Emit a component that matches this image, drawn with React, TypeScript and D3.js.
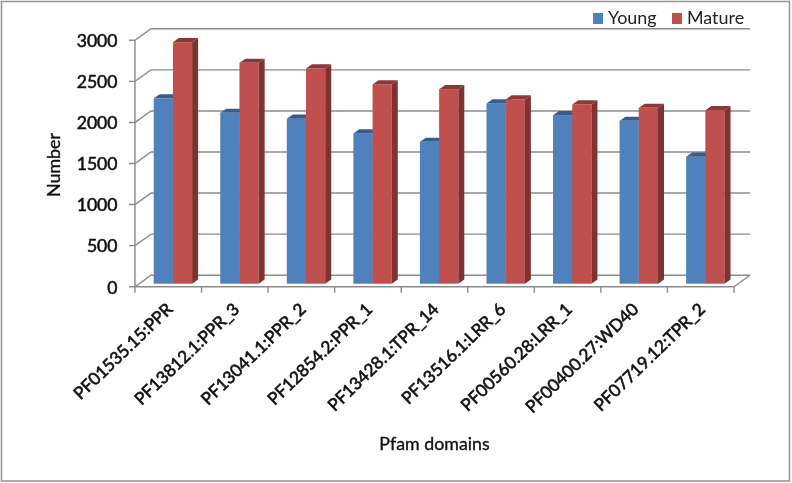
import React from "react";
import * as d3 from "d3";

const categories = ["PF01535.15:PPR","PF13812.1:PPR_3","PF13041.1:PPR_2","PF12854.2:PPR_1","PF13428.1:TPR_14","PF13516.1:LRR_6","PF00560.28:LRR_1","PF00400.27:WD40","PF07719.12:TPR_2"];
const young = [2257,2080,2008,1830,1727,2195,2052,1983,1545];
const mature = [2940,2689,2620,2426,2368,2243,2182,2141,2113];
const ticks = [0,500,1000,1500,2000,2500,3000];

const W = 792, H = 483;
const font = "Lato, 'Open Sans', 'Noto Sans', sans-serif";
const gridC = "#8c8c8c";

export default function App() {
  const x0 = 135, x1 = 734, dx = 16, dy = -11.5;
  const yFront = d3.scaleLinear().domain([0,3000]).range([286.7,40.3]);
  const yBar = d3.scaleLinear().domain([0,3000]).range([283.7,37.3]);
  const band = d3.scaleBand<number>().domain(d3.range(categories.length)).range([x0,x1]);
  const sw = 19.2, sideW = 6, topH = 4.2, pad = 18.7;
  const bar = (i: number, s: number, v: number, c: string[]) => {
    const l = band(i)! + pad + s*sw, r = l + sw, t = yBar(v), b = yBar(0);
    return (
      <g key={i+"-"+s}>
        <rect x={l} y={t} width={sw} height={b-t} fill={c[0]} />
        <path d={`M${l},${t}L${l+sideW},${t-topH}H${r+sideW}L${r},${t}Z`} fill={c[1]} />
        <path d={`M${r},${t}L${r+sideW},${t-topH}V${b-topH}L${r},${b}Z`} fill={c[2]} />
      </g>
    );
  };
  return (
    <svg width={W} height={H} style={{position:"absolute",left:0,top:0,background:"#fff",filter:"blur(0.45px)"}} fontFamily={font}>
      <rect x={1.5} y={1.5} width={788} height={479.5} fill="#fff" stroke="#9a9a9a" strokeWidth={1.6}/>
      {ticks.map(t => (
        <g key={t} stroke={gridC} strokeWidth={1.4} fill="none">
          <path d={`M${x0-6},${yFront(t)}H${x0}L${x0+dx},${yFront(t)+dy}H${x1+dx}`} />
        </g>
      ))}
      <path d={`M${x0},${yFront(3000)}V${yFront(0)}H${x1}L${x1+dx},${yFront(0)+dy}`} stroke={gridC} strokeWidth={1.4} fill="none"/>
      {d3.range(categories.length+1).map(i => {
        const x = x0 + i*(x1-x0)/categories.length;
        return <line key={i} x1={x} x2={x} y1={yFront(0)} y2={yFront(0)+6} stroke={gridC} strokeWidth={1.4}/>;
      })}
      {categories.map((_,i) => [bar(i,0,young[i],["#4f81bd","#385d8a","#3f6797"]), bar(i,1,mature[i],["#c0504d","#8c3836","#7f3230"])])}
      {ticks.map(t => (
        <text key={t} x={117.5} y={yFront(t)+6.8} textAnchor="end" fontSize={17.6} stroke="#111" strokeWidth={0.55} fill="#111">{t}</text>
      ))}
      {categories.map((c,i) => {
        const x = band(i)! + band.bandwidth()/2 + 5.5, y = 310.5;
        return <text key={c} transform={`translate(${x},${y}) rotate(-44)`} textAnchor="end" fontSize={17.2} stroke="#111" strokeWidth={0.6} fill="#111">{c}</text>;
      })}
      <text transform="translate(60,165) rotate(-90)" textAnchor="middle" fontSize={17.8} stroke="#111" strokeWidth={0.35} fill="#111">Number</text>
      <text x={434.5} y={450} textAnchor="middle" fontSize={17.8} stroke="#111" strokeWidth={0.35} fill="#111">Pfam domains</text>
      <rect x={593} y={13} width={10} height={11} fill="#4f81bd"/>
      <text x={608} y={24} fontSize={17.9} fill="#222">Young</text>
      <rect x={672} y={13} width={10} height={11} fill="#c0504d"/>
      <text x={687} y={24} fontSize={17.9} fill="#222">Mature</text>
    </svg>
  );
}
